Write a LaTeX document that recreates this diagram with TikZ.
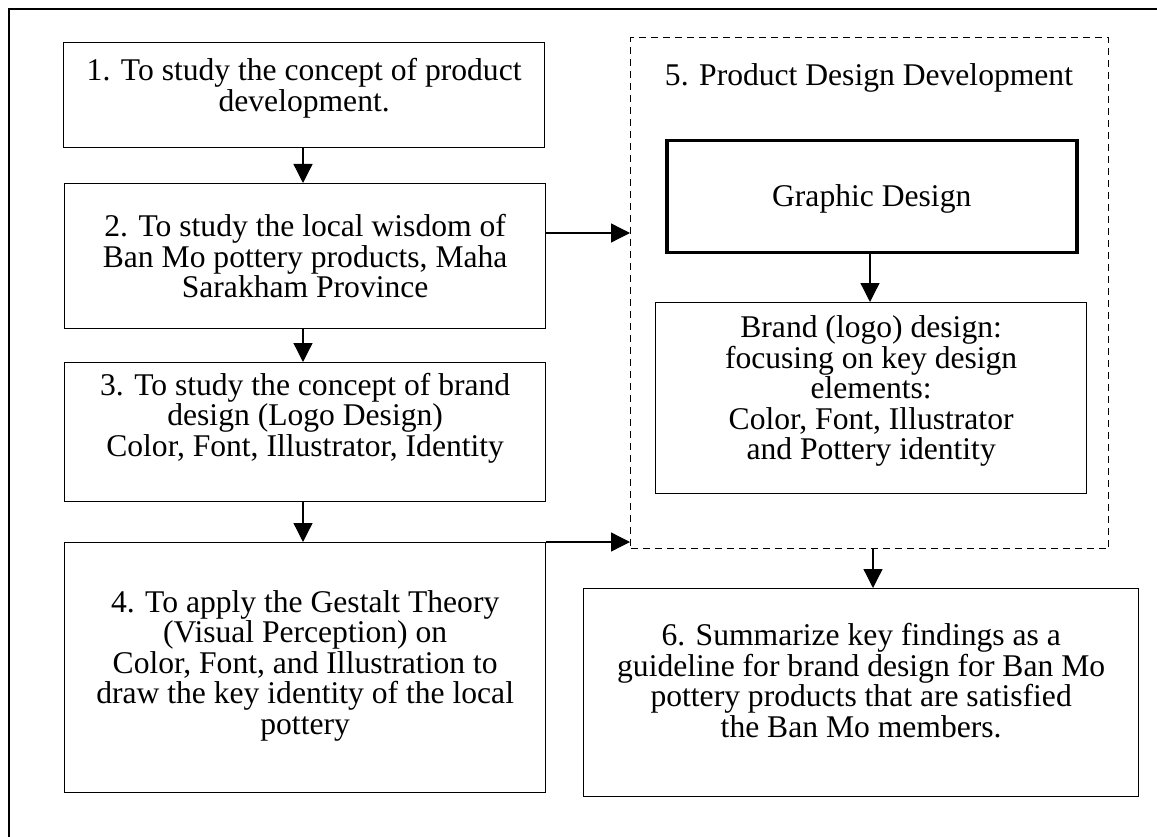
\documentclass[tikz,border=0pt]{standalone}
\usepackage{fontspec}
\setmainfont{Liberation Serif}
\usetikzlibrary{arrows.meta}
\begin{document}
\begin{tikzpicture}[x=1pt,y=-1pt,
  box/.style={draw, line width=1.3pt, inner sep=0pt, anchor=north west},
  thickbox/.style={box, line width=3.5pt},
  groupbox/.style={draw, line width=1.3pt, dash pattern=on 7pt off 5pt, inner sep=0pt, anchor=north west},
  arr/.style={line width=1.3pt, -{Triangle[length=19pt,width=19pt]}},
  txt/.style={font=\fontsize{31.6}{30.5}\selectfont, align=center, inner sep=0pt}
]
\useasboundingbox (0,0) rectangle (1157,837);
\draw[line width=2pt] (9,837) -- (9,9) -- (1157,9);

% left column boxes
\node[box, minimum width=481pt, minimum height=105pt] (b1) at (63,42) {};
\node[box, minimum width=481pt, minimum height=145pt] (b2) at (64,183) {};
\node[box, minimum width=481pt, minimum height=139pt] (b3) at (64,362) {};
\node[box, minimum width=481pt, minimum height=250pt] (b4) at (64,542) {};

\node[txt] (t1) at ([yshift=7pt]b1.center) {1. To study the concept of product\\development.};
\node[txt] (t2) at (b2.center) {2. To study the local wisdom of\\Ban Mo pottery products, Maha\\Sarakham Province};
\node[txt] (t3) at ([yshift=14pt]b3.center) {3. To study the concept of brand\\design (Logo Design)\\Color, Font, Illustrator, Identity};
\node[txt] (t4) at ([yshift=2pt]b4.center) {4. To apply the Gestalt Theory\\(Visual Perception) on\\Color, Font, and Illustration to\\draw the key identity of the local\\pottery};

% right side
\node[groupbox, minimum width=478pt, minimum height=511pt] (grp) at (630,37) {};
\node[txt] (t5) at (869,78) {5. Product Design Development};
\node[thickbox, minimum width=410pt, minimum height=112pt] (gd) at (665,139) {};
\node[txt] (tgd) at ([yshift=-2pt]gd.center) {Graphic Design};
\node[box, minimum width=431pt, minimum height=191pt] (brand) at (655,302) {};
\node[txt] (tbr) at ([yshift=7pt]brand.center) {Brand (logo) design:\\focusing on key design\\elements:\\Color, Font, Illustrator\\and Pottery identity};
\node[box, minimum width=555pt, minimum height=208pt] (b6) at (583,588) {};
\node[txt] (t6) at ([yshift=12pt]b6.center) {6. Summarize key findings as a\\guideline for brand design for Ban Mo\\pottery products that are satisfied\\the Ban Mo members.};

\coordinate (ax) at (303,0);
\coordinate (bx) at (870,0);
\coordinate (cx) at (873,0);
\coordinate (ay) at (0,233);

\draw[arr] (b1.south -| ax) -- (b2.north -| ax);
\draw[arr] (b2.south -| ax) -- (b3.north -| ax);
\draw[arr] (b3.south -| ax) -- (b4.north -| ax);
\draw[arr] (b2.east |- ay) -- (grp.west |- ay);
\draw[arr] (b4.north east) -- (grp.west |- b4.north east);
\draw[arr] (gd.south -| bx) -- (brand.north -| bx);
\draw[arr] (grp.south -| cx) -- (b6.north -| cx);
\end{tikzpicture}
\end{document}
